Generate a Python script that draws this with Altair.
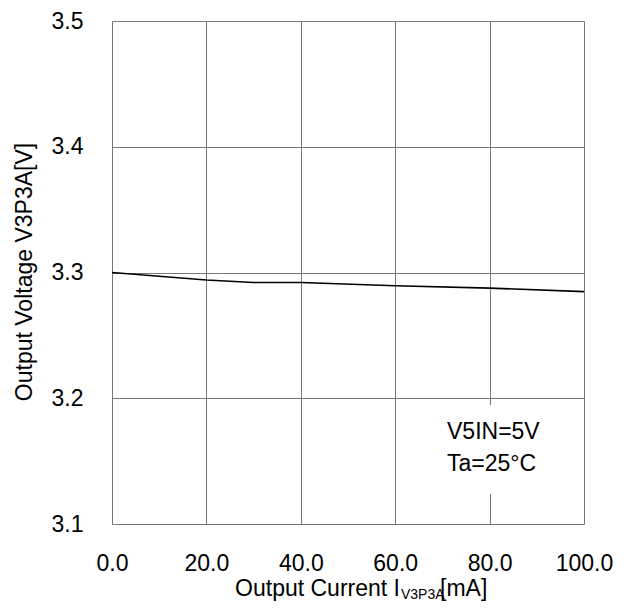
import altair as alt
import pandas as pd

current_mA = [0, 20, 30, 40, 60, 80, 100]
voltage_V = [3.300, 3.294, 3.292, 3.292, 3.2895, 3.2876, 3.2848]
x_ticks = [0, 20, 40, 60, 80, 100]
y_ticks = [3.1, 3.2, 3.3, 3.4, 3.5]
note_lines = ["V5IN=5V", "Ta=25°C"]

FONT = "Liberation Sans"
FS = 23
df = pd.DataFrame({"I": current_mA, "V": voltage_V})
one = pd.DataFrame({"k": [0]})

xs = alt.Scale(domain=[0, 100], nice=False, zero=False)
ys = alt.Scale(domain=[3.1, 3.5], nice=False, zero=False)

common_axis = dict(format=".1f", title=None, grid=True, ticks=False, domain=False,
                   labelFontSize=FS, labelFont=FONT, labelColor="black",
                   labelFlush=False, labelOverlap=False,
                   gridColor="#777777", gridWidth=1, gridOpacity=1)

line = alt.Chart(df).mark_line(color="black", strokeWidth=1.6).encode(
    x=alt.X("I:Q", scale=xs, axis=alt.Axis(values=x_ticks, labelPadding=28, **common_axis)),
    y=alt.Y("V:Q", scale=ys, axis=alt.Axis(values=y_ticks, labelPadding=29, **common_axis)),
)

H = 503
box = alt.Chart(one).mark_rect(color="white").encode(
    x=alt.value(318), x2=alt.value(452), y=alt.value(384), y2=alt.value(473)
)

note = alt.Chart(pd.DataFrame({"t": note_lines, "yy": [418, 450]})).mark_text(
    align="left", baseline="alphabetic", font=FONT, fontSize=FS, color="black",
    fontWeight="normal"
).encode(x=alt.value(335), y=alt.Y("yy:Q", scale=None), text="t:N")

def label(txt, x, y, size, align="left", angle=0):
    return alt.Chart(one).mark_text(
        align=align, baseline="alphabetic", font=FONT, fontSize=size,
        color="black", fontWeight="normal", angle=angle
    ).encode(x=alt.value(x), y=alt.value(y), text=alt.value(txt))

xt1 = label("Output Current I", 288, 575, FS, align="right")
xt2 = label("V3P3A", 289, 578, 14)
xt3 = label("[mA]", 328, 575, FS)
yt = label("Output Voltage V3P3A[V]", -80, 251, FS, align="center", angle=270)

chart = alt.layer(box, line, note, xt1, xt2, xt3, yt).properties(
    width=472, height=H,
    autosize=alt.AutoSizeParams(type="none"),
    padding={"left": 104, "top": 13, "right": 34, "bottom": 78},
).configure_view(stroke="black", strokeWidth=2).configure(background="white")

chart.save("out.html", embed_options={"renderer": "svg", "actions": False})
